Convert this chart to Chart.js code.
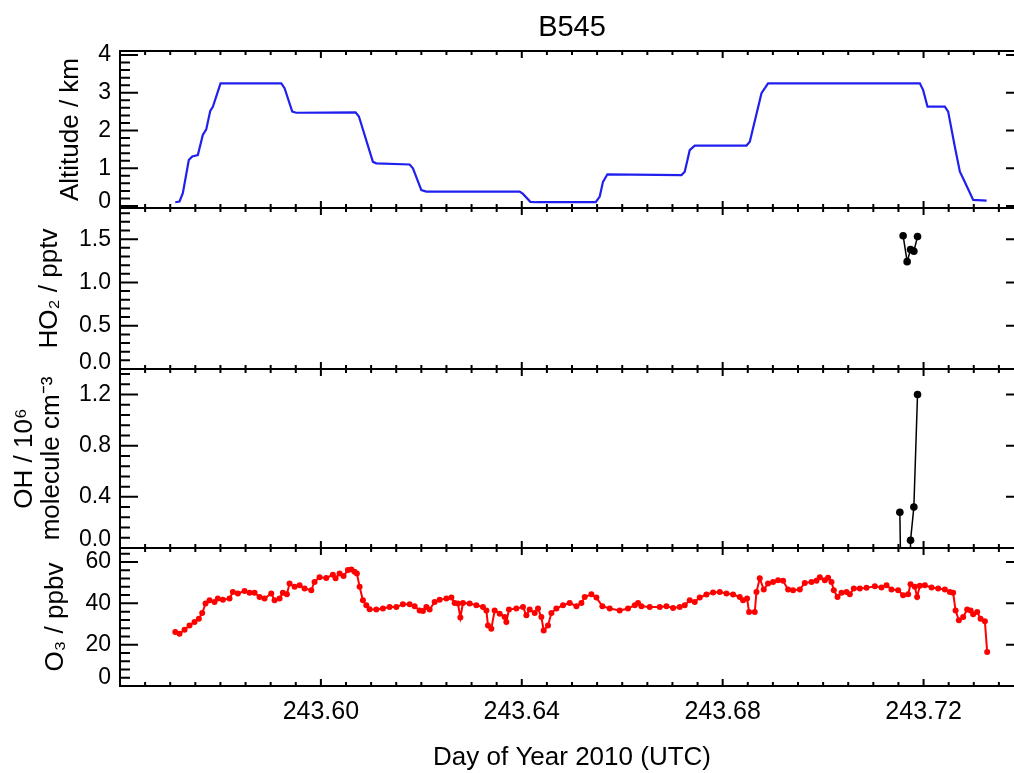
<!DOCTYPE html>
<html>
<head>
<meta charset="utf-8">
<title>B545</title>
<script src="https://cdn.jsdelivr.net/npm/chart.js@4.4.1/dist/chart.umd.min.js"></script>
<style>
  html, body { margin: 0; padding: 0; background: #fff; overflow: hidden; }
  #flightChart { position: absolute; left: 0; top: 0; }
</style>
</head>
<body>
<canvas id="flightChart" width="1040" height="773"></canvas>
<script>
const FONT = "'Liberation Sans', Arial, sans-serif";
const chartTitle = 'B545';

// shared time axis (day of year)
const dayRange = [243.56, 243.74];
const dayTicks = [243.60, 243.64, 243.68, 243.72];

// altitude track
const altDay = [243.57100, 243.57185, 243.57251, 243.57370, 243.57438, 243.57550, 243.57649, 243.57717,
  243.57797, 243.57849, 243.58002, 243.59211, 243.59277, 243.59430, 243.59510, 243.60691, 243.60757,
  243.61036, 243.61104, 243.61767, 243.61833, 243.62000, 243.62100, 243.63958, 243.64024, 243.64171,
  243.64291, 243.65472, 243.65552, 243.65617, 243.65705, 243.67179, 243.67245, 243.67344, 243.67444,
  243.68474, 243.68540, 243.68773, 243.68904, 243.71926, 243.71992, 243.72079, 243.72424, 243.72490,
  243.72623, 243.72723, 243.72803, 243.72988, 243.73255];
const altKm = [0.10, 0.12, 0.34, 1.22, 1.31, 1.35, 1.88, 2.03,
  2.52, 2.63, 3.25, 3.25, 3.12, 2.50, 2.47, 2.48, 2.37,
  1.17, 1.13, 1.10, 1.00, 0.42, 0.38, 0.38, 0.32, 0.11,
  0.10, 0.10, 0.25, 0.64, 0.84, 0.82, 0.91, 1.48, 1.60,
  1.60, 1.70, 2.99, 3.25, 3.25, 3.07, 2.63, 2.63, 2.50,
  1.57, 0.91, 0.69, 0.16, 0.14];
const altTicks = [0, 1, 2, 3, 4];

// HO2
const ho2Day = [243.71593, 243.71673, 243.71741, 243.71807, 243.71880];
const ho2Pptv = [1.54, 1.24, 1.38, 1.36, 1.53];
const ho2Ticks = [0, 0.5, 1.0, 1.5];

// OH (second sample is far below zero, only its line shows)
const ohDay = [243.71528, 243.71673, 243.71741, 243.71807, 243.71880];
const ohConc = [0.28, -3.5, 0.06, 0.32, 1.20];
const ohTicks = [0, 0.4, 0.8, 1.2];

// O3
const o3Day = [243.57100, 243.57185, 243.57285, 243.57384, 243.57484, 243.57570, 243.57637, 243.57703,
  243.57783, 243.57882, 243.57948, 243.58048, 243.58181, 243.58247, 243.58347, 243.58480, 243.58580,
  243.58679, 243.58779, 243.58878, 243.59012, 243.59078, 243.59177, 243.59243, 243.59323, 243.59376,
  243.59476, 243.59576, 243.59675, 243.59809, 243.59874, 243.59974, 243.60107, 243.60239, 243.60293,
  243.60372, 243.60452, 243.60538, 243.60606, 243.60671, 243.60717, 243.60771, 243.60837, 243.60904,
  243.60970, 243.61104, 243.61235, 243.61368, 243.61502, 243.61633, 243.61767, 243.61866, 243.61966,
  243.62032, 243.62100, 243.62165, 243.62265, 243.62364, 243.62498, 243.62598, 243.62663, 243.62729,
  243.62777, 243.62829, 243.62962, 243.63096, 243.63227, 243.63295, 243.63327, 243.63394, 243.63460,
  243.63560, 243.63659, 243.63693, 243.63745, 243.63892, 243.64024, 243.64092, 243.64157, 243.64257,
  243.64323, 243.64390, 243.64436, 243.64522, 243.64590, 243.64689, 243.64821, 243.64954, 243.65088,
  243.65187, 243.65253, 243.65386, 243.65486, 243.65605, 243.65751, 243.65950, 243.66115, 243.66249,
  243.66315, 243.66382, 243.66548, 243.66747, 243.66880, 243.67012, 243.67145, 243.67245, 243.67344,
  243.67444, 243.67544, 243.67677, 243.67809, 243.67942, 243.68075, 243.68207, 243.68340, 243.68406,
  243.68486, 243.68526, 243.68639, 243.68673, 243.68739, 243.68818, 243.68904, 243.69004, 243.69103,
  243.69203, 243.69303, 243.69402, 243.69536, 243.69635, 243.69769, 243.69868, 243.69934, 243.70034,
  243.70099, 243.70167, 243.70213, 243.70287, 243.70366, 243.70466, 243.70532, 243.70611, 243.70731,
  243.70864, 243.71030, 243.71163, 243.71263, 243.71362, 243.71494, 243.71593, 243.71693, 243.71741,
  243.71826, 243.71872, 243.71926, 243.72026, 243.72159, 243.72291, 243.72424, 243.72524, 243.72589,
  243.72637, 243.72703, 243.72789, 243.72868, 243.72936, 243.72988, 243.73068, 243.73135, 243.73221,
  243.73267];
const o3Ppbv = [26.1, 25.3, 27.2, 29.3, 31.0, 32.6, 35.3, 39.9,
  41.5, 40.7, 42.3, 41.8, 42.3, 45.5, 44.8, 46.0, 45.1,
  45.1, 43.1, 42.3, 44.8, 41.5, 42.3, 45.1, 44.4, 49.6,
  48.0, 48.8, 47.2, 46.4, 50.4, 52.6, 52.3, 53.8, 52.1,
  54.5, 53.2, 56.1, 56.4, 55.3, 54.5, 48.0, 41.5, 39.1,
  37.1, 37.0, 37.5, 38.2, 38.2, 39.6, 39.6, 38.6, 36.6,
  36.3, 38.2, 37.0, 40.7, 41.8, 42.3, 42.8, 40.2, 39.9,
  33.1, 40.2, 39.9, 39.1, 38.2, 36.6, 29.3, 27.7, 36.6,
  35.0, 33.4, 31.0, 37.0, 37.5, 38.2, 34.2, 37.0, 35.3,
  37.5, 33.4, 26.9, 29.3, 35.3, 37.5, 39.1, 40.2, 38.6,
  40.2, 43.1, 44.4, 42.8, 38.6, 37.5, 36.6, 37.5, 39.1,
  40.2, 38.6, 38.2, 38.2, 38.6, 37.8, 38.2, 39.1, 41.5,
  40.7, 42.8, 44.3, 45.3, 45.5, 44.8, 44.3, 43.1, 41.5,
  42.3, 35.8, 35.8, 45.5, 52.1, 46.7, 49.6, 50.4, 51.2,
  50.9, 46.7, 46.4, 46.7, 49.9, 50.4, 50.9, 52.6, 51.2,
  52.4, 50.4, 46.4, 43.1, 45.1, 45.5, 44.4, 47.2, 47.2,
  47.5, 48.3, 47.7, 48.8, 46.7, 46.4, 43.9, 44.4, 49.3,
  48.0, 43.1, 48.5, 48.8, 47.7, 47.2, 46.7, 45.5, 45.1,
  36.6, 31.8, 33.4, 37.0, 36.6, 34.7, 35.8, 32.6, 31.4,
  16.4];
const o3Ticks = [0, 20, 40, 60];

const pairs = (xs, ys) => xs.map((x, i) => ({ x, y: ys[i] }));

// minor tick spacing for the inward tick marks
const minorStep = { yAlt: 0.2, yHO2: 0.1, yOH: 0.08, yO3: 4, x: 0.005 };
const panelIds = ['yAlt', 'yHO2', 'yOH', 'yO3'];

function steps(min, max, step) {
  const out = [];
  for (let k = Math.ceil(min / step - 1e-6); k * step <= max + 1e-9; k++) out.push(k * step);
  return out;
}

// one left axis per panel, stacked top to bottom
function panelAxis({ order, height, min, max, ticks, digits, lift, title, titlePad, titleLine }) {
  return {
    type: 'linear',
    position: 'left',
    stack: 'flight',
    stackWeight: height,
    weight: order,
    min, max,
    grid: { display: false, drawTicks: false },
    border: { display: false },
    afterFit: s => { s.width = 120; },
    afterBuildTicks: s => { s.ticks = ticks.map(value => ({ value })); },
    ticks: {
      padding: 9,
      color: '#000',
      autoSkip: false,
      // the lowest label is pushed up so it stays inside its panel
      callback: v => v === 0 ? [v.toFixed(digits), ''] : v.toFixed(digits),
      font: c => ({
        family: FONT,
        size: 23,
        lineHeight: c.tick && c.tick.value === 0 ? (lift * 2) + 'px' : 1.2
      })
    },
    title: {
      display: true,
      text: title,
      color: '#000',
      font: { family: FONT, size: 26, lineHeight: titleLine || 1.2 },
      padding: { top: titlePad, bottom: 0 }
    }
  };
}

// IDL-style boxes: frame every panel, inward ticks on all four sides
const idlFrames = {
  id: 'idlFrames',
  beforeDatasetDraw(chart, args) {
    const { ctx, chartArea } = chart;
    const ys = args.meta.yScale;
    ctx.save();
    ctx.beginPath();
    ctx.rect(chartArea.left, ys.top, chartArea.right - chartArea.left, ys.bottom - ys.top);
    ctx.clip();
  },
  afterDatasetDraw(chart) {
    chart.ctx.restore();
  },
  afterDraw(chart) {
    const { ctx, chartArea: { left, right } } = chart;
    const xs = chart.scales.x;
    const isMajor = (list, v) => list.some(t => Math.abs(t.value - v) < 1e-7);
    const xMinor = steps(xs.min, xs.max, minorStep.x);
    ctx.save();
    ctx.strokeStyle = '#000';
    ctx.lineWidth = 2;
    panelIds.forEach(id => {
      const ys = chart.scales[id];
      ctx.strokeRect(left, ys.top, right - left, ys.bottom - ys.top);
      ctx.beginPath();
      steps(ys.min, ys.max, minorStep[id]).forEach(v => {
        const len = isMajor(ys.ticks, v) ? 18 : 10;
        const py = ys.getPixelForValue(v);
        ctx.moveTo(left, py); ctx.lineTo(left + len, py);
        ctx.moveTo(right, py); ctx.lineTo(right - len, py);
      });
      xMinor.forEach(v => {
        const len = isMajor(xs.ticks, v) || Math.abs(v / 0.04 - Math.round(v / 0.04)) < 1e-6 ? 7 : 4;
        const px = xs.getPixelForValue(v);
        ctx.moveTo(px, ys.top); ctx.lineTo(px, ys.top + len);
        ctx.moveTo(px, ys.bottom); ctx.lineTo(px, ys.bottom - len);
      });
      ctx.stroke();
    });
    ctx.fillStyle = '#000';
    ctx.font = `29px ${FONT}`;
    ctx.textAlign = 'center';
    ctx.textBaseline = 'middle';
    ctx.fillText(chartTitle, (left + right) / 2, 28);
    ctx.restore();
  }
};

new Chart(document.getElementById('flightChart'), {
  type: 'line',
  data: {
    datasets: [
      {
        label: 'Altitude',
        data: pairs(altDay, altKm),
        yAxisID: 'yAlt',
        borderColor: 'rgb(32, 32, 238)',
        borderWidth: 2.2,
        pointRadius: 0,
        tension: 0
      },
      {
        label: 'HO2',
        data: pairs(ho2Day, ho2Pptv),
        yAxisID: 'yHO2',
        borderColor: '#000',
        backgroundColor: '#000',
        borderWidth: 1.5,
        pointRadius: 3.8,
        pointBorderWidth: 0
      },
      {
        label: 'OH',
        data: pairs(ohDay, ohConc),
        yAxisID: 'yOH',
        borderColor: '#000',
        backgroundColor: '#000',
        borderWidth: 1.5,
        pointRadius: 3.8,
        pointBorderWidth: 0
      },
      {
        label: 'O3',
        data: pairs(o3Day, o3Ppbv),
        yAxisID: 'yO3',
        borderColor: 'rgb(255, 0, 0)',
        backgroundColor: 'rgb(255, 0, 0)',
        borderWidth: 2,
        pointRadius: 3,
        pointBorderWidth: 0
      }
    ]
  },
  options: {
    responsive: false,
    animation: false,
    devicePixelRatio: 1,
    layout: { padding: { left: 0, right: 16, top: 51, bottom: 0 } },
    plugins: {
      legend: { display: false },
      tooltip: { enabled: false }
    },
    scales: {
      x: {
        type: 'linear',
        min: dayRange[0],
        max: dayRange[1],
        grid: { display: false, drawTicks: false },
        border: { display: false },
        afterFit: s => { s.height = 87; },
        afterBuildTicks: s => { s.ticks = dayTicks.map(value => ({ value })); },
        ticks: {
          padding: 11,
          color: '#000',
          autoSkip: false,
          maxRotation: 0,
          font: { family: FONT, size: 25 },
          callback: v => v.toFixed(2)
        },
        title: {
          display: true,
          text: 'Day of Year 2010 (UTC)',
          color: '#000',
          font: { family: FONT, size: 26, lineHeight: 1 },
          padding: { top: 0, bottom: 2.5 }
        }
      },
      yAlt: panelAxis({ order: 4, height: 157, min: -0.053, max: 4.106, ticks: altTicks, digits: 0, lift: 4,
        title: 'Altitude / km', titlePad: 55.2 }),
      yHO2: panelAxis({ order: 3, height: 161, min: 0, max: 1.86, ticks: ho2Ticks, digits: 1, lift: 6.5,
        title: 'HO₂ / pptv', titlePad: 34 }),
      yOH: panelAxis({ order: 2, height: 179, min: 0, max: 1.40, ticks: ohTicks, digits: 1, lift: 8.8,
        title: ['OH / 10⁶', 'molecule cm⁻³'], titlePad: 11.3, titleLine: 1.05 }),
      yO3: panelAxis({ order: 1, height: 138, min: 0, max: 66.8, ticks: o3Ticks, digits: 0, lift: 8,
        title: 'O₃ / ppbv', titlePad: 40.4 })
    }
  },
  plugins: [idlFrames]
});
</script>
</body>
</html>
